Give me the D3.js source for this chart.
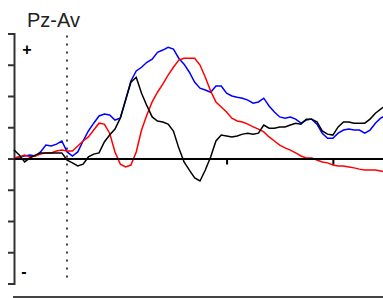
<!DOCTYPE html>
<html>
<head>
<meta charset="utf-8">
<script src="https://cdn.jsdelivr.net/npm/d3@7"></script>
<style>
  body { margin: 0; background: #fff; }
  svg { display: block; }
</style>
</head>
<body>
<div id="chart"></div>
<script>
// sample times in ms, every 10 ms from -100 to 600
var times = d3.range(-100, 601, 10);

// amplitudes (uV) for each condition
var blackVals = [
  0.27, 0.11, -0.11, 0.02, 0.11, 0.18, 0.18, 0.18, 0.18, 0.18,
  -0.05, -0.14, -0.24, -0.18, 0.05, 0.14, 0.18, 0.53, 0.75, 0.94,
  1.29, 1.87, 2.44, 2.60, 2.09, 1.69, 1.33, 1.20, 1.17, 1.10,
  0.88, 0.34, -0.11, -0.37, -0.62, -0.72, -0.37, 0.05, 0.56, 0.75,
  0.72, 0.69, 0.72, 0.78, 0.81, 0.78, 0.81, 1.07, 0.97, 0.97,
  1.01, 1.01, 1.07, 1.13, 1.10, 1.26, 1.26, 1.17, 0.88, 0.78,
  0.75, 1.01, 1.17, 1.17, 1.13, 1.13, 1.13, 1.26, 1.45, 1.58,
  1.71
];

var blueVals = [
  0.02, 0.05, 0.08, 0.11, 0.08, 0.21, 0.43, 0.40, 0.46, 0.56,
  0.21, 0.08, 0.21, 0.56, 0.88, 1.13, 1.36, 1.42, 1.39, 1.23,
  1.29, 1.87, 2.48, 2.80, 2.92, 3.08, 3.18, 3.40, 3.47, 3.56,
  3.50, 3.21, 3.02, 2.76, 2.44, 2.25, 2.19, 2.12, 2.32, 2.32,
  2.09, 2.00, 1.96, 1.93, 1.87, 1.77, 1.81, 1.93, 1.68, 1.49,
  1.33, 1.29, 1.33, 1.26, 1.13, 1.23, 1.26, 1.10, 0.81, 0.65,
  0.65, 0.81, 0.91, 0.94, 0.91, 0.91, 0.81, 0.91, 1.13, 1.29,
  1.39
];

var redVals = [
  0.02, 0.05, 0.11, 0.05, 0.08, 0.14, 0.18, 0.18, 0.24, 0.27,
  0.24, 0.24, 0.40, 0.56, 0.69, 0.91, 1.13, 1.10, 0.81, 0.21,
  -0.18, -0.27, -0.21, 0.21, 0.91, 1.39, 1.81, 2.12, 2.38, 2.67,
  2.92, 3.15, 3.21, 3.21, 3.21, 2.99, 2.60, 2.16, 1.81, 1.65,
  1.49, 1.29, 1.20, 1.17, 1.10, 1.01, 0.94, 0.85, 0.69, 0.56,
  0.43, 0.34, 0.27, 0.18, 0.08, 0.02, 0.02, -0.05, -0.11, -0.14,
  -0.21, -0.24, -0.24, -0.27, -0.30, -0.34, -0.37, -0.37, -0.37, -0.40,
  -0.43
];

var yTicks = [-4, -3, -2, -1, 0, 1, 2, 3, 4];
var xTicks = [300, 500];
var title = "Pz-Av";

var series = [
  {name: "blue", vals: blueVals, color: "#0000ff"},
  {name: "red", vals: redVals, color: "#ff0000"},
  {name: "black", vals: blackVals, color: "#000000"}
];

var width = 383, height = 298;

var svg = d3.select("#chart")
  .append("svg")
  .attr("width", width)
  .attr("height", height);

var xScale = d3.scaleLinear()
  .domain([-100, 600])
  .range([14, 386]);

var yScale = d3.scaleLinear()
  .domain([-4, 4])
  .range([283.5, 33.5]);

// left axis, bracket style
var yAxis = svg.append("g")
  .attr("transform", "translate(" + xScale(-100) + ",0)")
  .call(d3.axisLeft(yScale).tickValues(yTicks).tickSize(6).tickSizeOuter(6).tickFormat(""));
yAxis.selectAll("path, line")
  .attr("stroke", "#333")
  .attr("stroke-width", 2);

// stimulus onset
var x0 = Math.round(xScale(0));
svg.append("line")
  .attr("x1", x0).attr("x2", x0)
  .attr("y1", yScale(4) + 2).attr("y2", yScale(-4))
  .attr("stroke", "#444")
  .attr("stroke-width", 2)
  .attr("stroke-dasharray", "2,6");

// polarity marks
svg.append("text")
  .attr("x", 27).attr("y", 55)
  .attr("text-anchor", "middle")
  .style("font-family", "Liberation Sans, Arial, sans-serif")
  .style("font-size", "16px")
  .style("font-weight", "bold")
  .text("+");
svg.append("text")
  .attr("x", 24).attr("y", 277)
  .attr("text-anchor", "middle")
  .style("font-family", "Liberation Sans, Arial, sans-serif")
  .style("font-size", "16px")
  .style("font-weight", "bold")
  .text("-");

// title
svg.append("text")
  .attr("x", 27).attr("y", 27)
  .style("font-family", "Liberation Sans, Arial, sans-serif")
  .style("font-size", "20px")
  .attr("fill", "#222")
  .text(title);

var line = d3.line()
  .x(function (d, i) { return xScale(times[i]); })
  .y(function (d) { return yScale(d); });

svg.append("g")
  .selectAll("path")
  .data(series)
  .enter()
  .append("path")
    .attr("d", function (d) { return line(d.vals); })
    .attr("fill", "none")
    .attr("stroke", function (d) { return d.color; })
    .attr("stroke-width", 1.5);

// zero line with time ticks
var xAxis = svg.append("g")
  .attr("transform", "translate(0," + yScale(0) + ")")
  .call(d3.axisBottom(xScale).tickValues(xTicks).tickSize(6).tickSizeOuter(0).tickFormat(""));
xAxis.selectAll("path, line")
  .attr("stroke", "#000")
  .attr("stroke-width", 2);

// bottom rule
svg.append("line")
  .attr("x1", 13).attr("x2", width)
  .attr("y1", 297).attr("y2", 297)
  .attr("stroke", "#444")
  .attr("stroke-width", 2);
</script>
</body>
</html>
